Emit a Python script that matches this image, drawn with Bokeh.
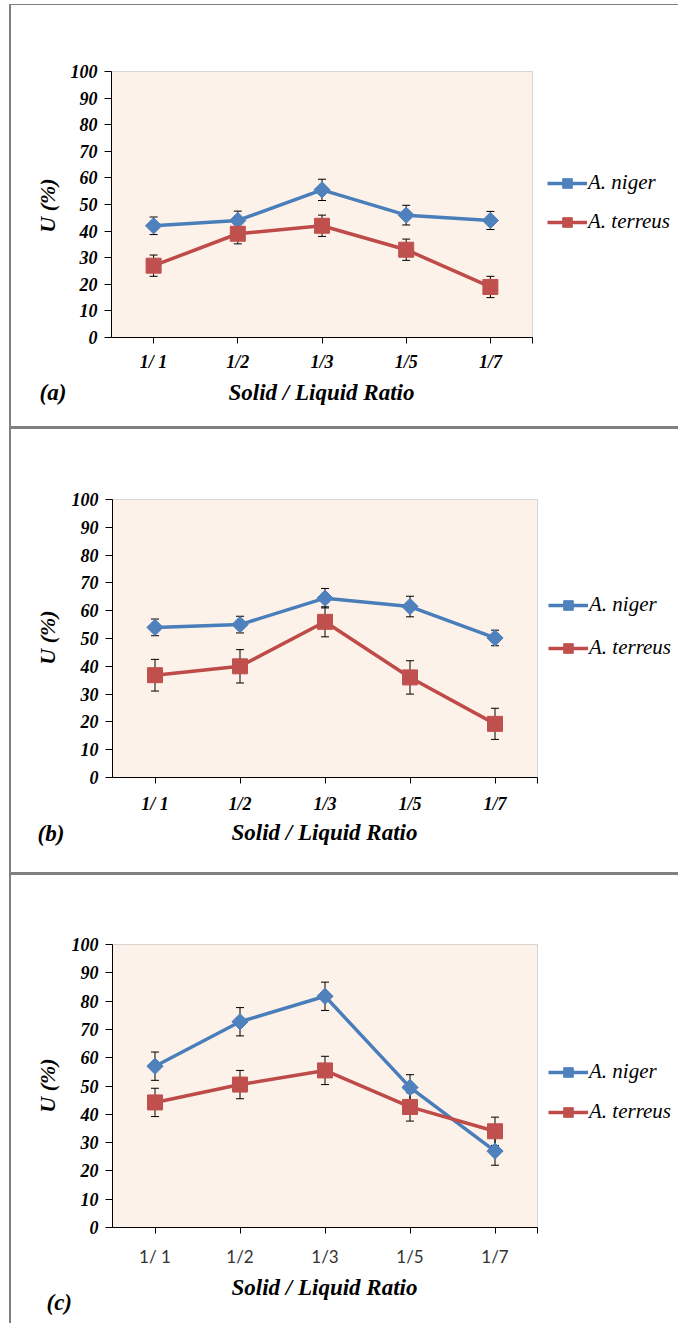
import math

from bokeh.embed import file_html
from bokeh.layouts import column, row
from bokeh.models import (BoxAnnotation, ColumnDataSource, Div, FixedTicker, Label,
                          Legend, LegendItem, Range1d, Spacer, TeeHead, Whisker)
from bokeh.plotting import figure
from bokeh.resources import INLINE

# ---- data -------------------------------------------------------------
ratios = ["1/ 1", "1/2", "1/3", "1/5", "1/7"]
y_ticks = [0, 10, 20, 30, 40, 50, 60, 70, 80, 90, 100]

# (a)
niger_a = [42.0, 44.0, 55.5, 46.0, 44.0]
niger_a_err = [3.3, 3.5, 4.0, 3.7, 3.4]
terreus_a = [27.0, 39.0, 42.0, 33.0, 19.0]
terreus_a_err = [4.0, 3.8, 4.0, 4.0, 4.0]

# (b)
niger_b = [54.0, 55.0, 64.5, 61.5, 50.2]
niger_b_err = [3.0, 3.0, 3.5, 3.7, 2.8]
terreus_b = [36.8, 40.0, 56.0, 36.0, 19.3]
terreus_b_err = [5.7, 6.0, 5.4, 6.0, 5.6]

# (c)
niger_c = [57.0, 72.7, 81.7, 49.5, 27.0]
niger_c_err = [5.0, 5.0, 5.0, 4.5, 5.0]
terreus_c = [44.2, 50.5, 55.5, 42.6, 34.0]
terreus_c_err = [5.0, 5.0, 5.0, 5.0, 5.0]

series_names = ["A. niger", "A. terreus"]
x_title = "Solid / Liquid Ratio"
y_title = "U (%)"

# ---- styling ----------------------------------------------------------
SERIF = "Liberation Serif, serif"
BLUE_LINE, BLUE_FILL = "#4A7EBB", "#4F81BD"
RED_LINE, RED_FILL = "#BE4B48", "#C0504D"
FRAME_GRAY = "#808080"
PLOT_BG = "#FDF2EA"
FIG_W = 667
N = len(ratios)
Y_MAX = y_ticks[-1]

# category slots: each ratio sits in the middle of a unit-wide band
x_pos = [i + 0.5 for i in range(N)]


def make_panel(tag, niger, niger_err, terreus, terreus_err, height, box,
               tick_font, tick_style, tick_size, tick_color, tick_standoff,
               title_xy, tag_xy, ytitle_xy, legend_xy, legend_spacing):
    # box = pixel extent (left, right, top, bottom) of the plotting area inside
    # the canvas; the ranges are widened so the frame fills the whole canvas and
    # the axes are pinned to x=0 / y=0.
    L, R, T, B = box
    ux = (R - L) / N
    uy = (B - T) / Y_MAX
    p = figure(width=FIG_W, height=height,
               x_range=Range1d(-L / ux, N + (FIG_W - R) / ux),
               y_range=Range1d(-(height - B) / uy, Y_MAX + T / uy),
               output_backend="svg", toolbar_location=None,
               min_border=0, min_border_left=0, min_border_right=0,
               min_border_top=0, min_border_bottom=0)
    p.background_fill_color = "white"
    p.border_fill_color = "white"
    p.outline_line_color = None
    p.grid.visible = False

    def dx(px):
        return (px - L) / ux

    def dy(py):
        return (B - py) / uy

    # plotting area
    p.add_layout(BoxAnnotation(left=0, right=N, bottom=0, top=Y_MAX,
                               fill_color=PLOT_BG, fill_alpha=1,
                               line_color=FRAME_GRAY, line_width=1, level="image"))

    # y axis
    p.yaxis.fixed_location = 0
    p.yaxis.bounds = (0, Y_MAX)
    p.yaxis.ticker = FixedTicker(ticks=y_ticks)
    p.yaxis.minor_tick_line_color = None
    p.yaxis.major_tick_in = 0
    p.yaxis.major_tick_out = 7
    p.yaxis.major_label_standoff = 7
    p.yaxis.major_label_text_font = SERIF
    p.yaxis.major_label_text_font_style = "bold italic"
    p.yaxis.major_label_text_font_size = "18px"
    p.yaxis.major_label_text_color = "black"
    p.yaxis.axis_line_color = "black"
    p.yaxis.major_tick_line_color = "black"

    # x axis: a tick under each ratio plus one closing the right end
    p.xaxis.fixed_location = 0
    p.xaxis.bounds = (0, N)
    p.xaxis.ticker = FixedTicker(ticks=x_pos + [N])
    overrides = {x: r for x, r in zip(x_pos, ratios)}
    overrides[N] = ""
    p.xaxis.major_label_overrides = overrides
    p.xaxis.minor_tick_line_color = None
    p.xaxis.major_tick_in = 0
    p.xaxis.major_tick_out = 6
    p.xaxis.major_label_standoff = tick_standoff
    p.xaxis.major_label_text_font = tick_font
    p.xaxis.major_label_text_font_style = tick_style
    p.xaxis.major_label_text_font_size = tick_size
    p.xaxis.major_label_text_color = tick_color
    p.xaxis.axis_line_color = "black"
    p.xaxis.major_tick_line_color = "black"

    # titles and panel tag
    p.add_layout(Label(x=dx(title_xy[0]), y=dy(title_xy[1]), text=x_title,
                       text_font=SERIF, text_font_style="bold italic",
                       text_font_size="23px", text_color="black",
                       text_align="center", text_baseline="middle"))
    p.add_layout(Label(x=dx(ytitle_xy[0]), y=dy(ytitle_xy[1]), text=y_title, angle=math.pi / 2,
                       text_font=SERIF, text_font_style="bold italic",
                       text_font_size="22px", text_color="black",
                       text_align="center", text_baseline="middle"))
    p.add_layout(Label(x=dx(tag_xy[0]), y=dy(tag_xy[1]), text=tag,
                       text_font=SERIF, text_font_style="bold italic",
                       text_font_size="23px", text_color="black",
                       text_align="left", text_baseline="middle"))

    items = []
    for name, vals, errs, lc, fc, size, angle in [
        (series_names[0], niger, niger_err, BLUE_LINE, BLUE_FILL, 11.5, math.pi / 4),
        (series_names[1], terreus, terreus_err, RED_LINE, RED_FILL, 15, 0.0),
    ]:
        src = ColumnDataSource(dict(
            x=x_pos, y=vals,
            upper=[v + e for v, e in zip(vals, errs)],
            lower=[v - e for v, e in zip(vals, errs)],
        ))
        w = Whisker(source=src, base="x", upper="upper", lower="lower",
                    line_color="black", line_width=1, level="underlay",
                    upper_head=TeeHead(size=8, line_color="black", line_width=1),
                    lower_head=TeeHead(size=8, line_color="black", line_width=1))
        p.add_layout(w)
        lr = p.line("x", "y", source=src, line_color=lc, line_width=3.5)
        sr = p.scatter("x", "y", source=src, marker="square", size=size, angle=angle,
                       fill_color=fc, line_color=fc)
        items.append(LegendItem(label=name, renderers=[lr, sr]))

    legend = Legend(items=items, location=legend_xy,
                    label_text_font=SERIF, label_text_font_style="italic",
                    label_text_font_size="21px", label_text_color="black",
                    glyph_width=40, glyph_height=24, label_height=24,
                    spacing=legend_spacing, padding=0, margin=0,
                    label_standoff=1, border_line_alpha=0, background_fill_alpha=0)
    p.add_layout(legend)
    return p


# positions below are canvas pixels (x from left, y from top of each panel)
pa = make_panel("(a)", niger_a, niger_a_err, terreus_a, terreus_a_err, 421,
                (100, 521, 66, 332),
                SERIF, "bold italic", "18px", "black", 8,
                (310, 387), (28, 387), (36, 200), (536, 192), 14)
pb = make_panel("(b)", niger_b, niger_b_err, terreus_b, terreus_b_err, 443,
                (101, 526, 70, 348),
                SERIF, "bold italic", "18px", "black", 10,
                (313, 403), (26, 404), (36, 208), (537, 212), 18)
pc = make_panel("(c)", niger_c, niger_c_err, terreus_c, terreus_c_err, 448,
                (101, 526, 69, 352),
                "Lato", "normal", "17px", "#333333", 12,
                (313, 412), (35, 427), (36, 210), (537, 199), 15)


def bar(w, h):
    return Div(width=w, height=h, margin=0, styles={"background-color": FRAME_GRAY})


panels = column(pa, bar(FIG_W, 3), pb, bar(FIG_W, 3), pc, spacing=0)
framed = column(bar(FIG_W + 2, 1), row(bar(2, 1318), panels, spacing=0), spacing=0)
page = column(Spacer(width=678, height=4, margin=0),
              row(Spacer(width=9, height=1319, margin=0), framed, spacing=0),
              spacing=0)

open("out.html", "w").write(file_html(page, INLINE))
